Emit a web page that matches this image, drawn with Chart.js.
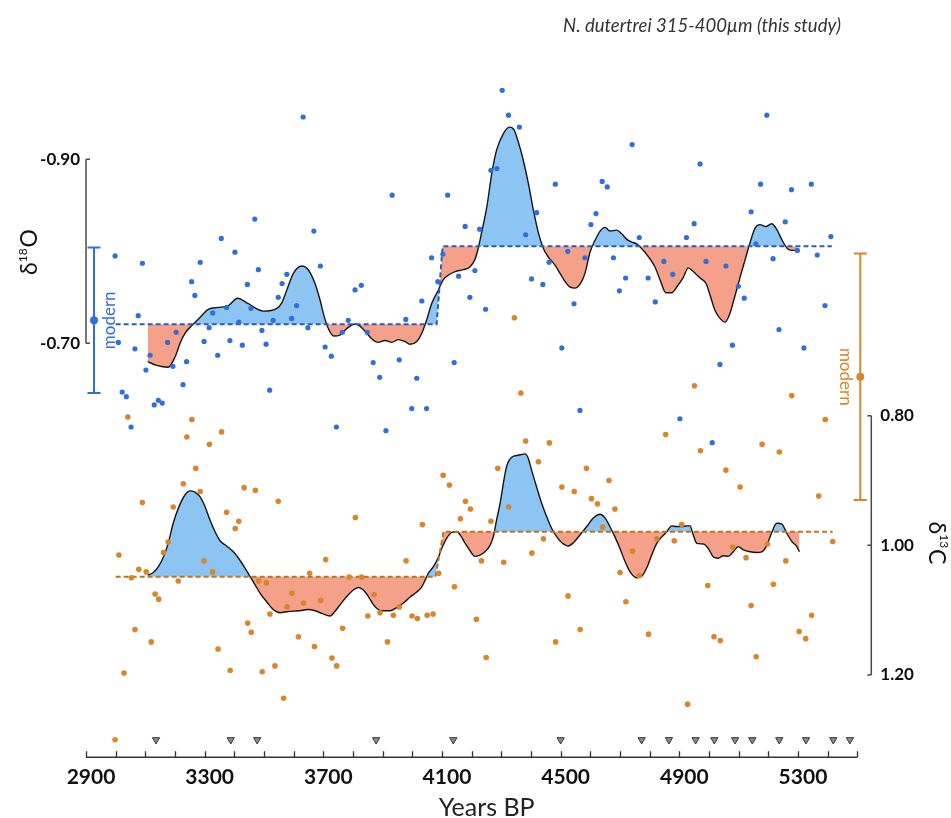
<!DOCTYPE html>
<html><head><meta charset="utf-8">
<script src="https://cdn.jsdelivr.net/npm/chart.js@4.4.1/dist/chart.umd.min.js"></script>
<style>html,body{margin:0;padding:0;background:#fff}#wrap{width:951px;height:818px;position:relative;background:#fff}</style>
</head><body><div id="wrap"><canvas id="c" width="951" height="818"></canvas></div>
<script>
// ---------------- DATA ----------------
// raw δ18O samples (Years BP, ‰)
const d18oYears = [2998,3090,3076,3009,3065,3102,3116,3022,3036,3130,3144,3157,3052,3632,3469,3356,3668,3402,3285,3481,3690,3256,3267,3444,3577,3561,3548,3327,3374,3456,3610,3415,3531,3593,3315,3493,3648,3204,3175,3298,3385,3427,3507,3344,3193,3239,3227,3519,3706,3727,3784,3764,3744,4303,4324,4361,4265,4285,3932,4119,4482,4178,4227,4419,4619,4602,4382,4065,4524,4461,4582,4103,4211,4156,4086,4402,4440,3807,3828,4194,4032,4247,4545,3978,3848,3868,3956,4141,3890,4015,4504,3998,4048,3911,4565,5195,4741,4970,4640,4657,5174,5278,5345,5142,5257,4950,4765,4924,5158,5411,4678,4848,4990,5057,5216,5298,5365,4719,4795,4878,4698,4819,5099,5119,5391,5236,5320,5079,5037,4902,5011];
const d18oValues = [-0.795,-0.787,-0.730,-0.701,-0.694,-0.671,-0.687,-0.647,-0.642,-0.633,-0.638,-0.635,-0.609,-0.946,-0.835,-0.814,-0.822,-0.799,-0.788,-0.780,-0.784,-0.767,-0.752,-0.764,-0.775,-0.765,-0.750,-0.733,-0.739,-0.738,-0.741,-0.723,-0.725,-0.727,-0.717,-0.714,-0.717,-0.712,-0.701,-0.702,-0.703,-0.698,-0.699,-0.687,-0.675,-0.680,-0.655,-0.649,-0.696,-0.686,-0.725,-0.712,-0.609,-0.975,-0.948,-0.935,-0.888,-0.890,-0.861,-0.861,-0.873,-0.827,-0.824,-0.842,-0.841,-0.829,-0.818,-0.793,-0.800,-0.788,-0.793,-0.797,-0.779,-0.773,-0.767,-0.770,-0.764,-0.758,-0.763,-0.750,-0.746,-0.737,-0.743,-0.726,-0.712,-0.679,-0.682,-0.679,-0.663,-0.662,-0.695,-0.629,-0.629,-0.605,-0.627,-0.948,-0.916,-0.895,-0.876,-0.870,-0.873,-0.867,-0.873,-0.843,-0.832,-0.830,-0.815,-0.815,-0.808,-0.816,-0.793,-0.789,-0.789,-0.784,-0.792,-0.801,-0.796,-0.771,-0.771,-0.775,-0.757,-0.745,-0.762,-0.749,-0.741,-0.715,-0.695,-0.698,-0.677,-0.618,-0.592];

// raw δ13C samples (Years BP, ‰)
const d13cYears = [2998,3041,3257,3240,3357,3316,3270,3228,3285,3090,3194,3433,3471,3548,3374,3415,3403,3177,3161,3011,3298,3078,3103,3053,3327,3211,3708,3654,3482,3508,3133,3145,3594,3633,3691,3578,3520,3445,3457,3065,3616,3765,3670,3120,3345,3729,3745,3537,3028,3386,3494,3566,4366,4344,4382,4462,4425,4587,4288,4104,4125,4504,4546,4604,4624,4179,4196,4325,3808,4162,4034,4265,4442,4403,4233,4308,3979,3787,3829,4089,3871,4142,4525,3956,3850,3891,3936,3999,4017,4050,4070,4216,4566,3916,4483,4249,4951,5279,5392,4854,4971,5179,5237,5057,5105,4663,4683,5370,4642,4908,4883,4824,5080,5125,5197,4742,5259,5417,4700,4765,4996,5217,4720,5142,5346,4796,5017,5038,5304,5326,5159,4928];
const d13cValues = [1.300,0.802,0.806,0.833,0.825,0.844,0.881,0.905,0.917,0.934,0.941,0.911,0.915,0.932,0.949,0.963,0.974,0.995,1.011,1.015,1.024,1.037,1.041,1.050,1.041,1.055,1.022,1.043,1.055,1.058,1.075,1.083,1.074,1.089,1.085,1.095,1.106,1.120,1.134,1.130,1.141,1.128,1.156,1.149,1.160,1.174,1.186,1.186,1.197,1.193,1.195,1.236,0.765,0.649,0.839,0.842,0.871,0.881,0.881,0.892,0.907,0.910,0.917,0.928,0.936,0.932,0.944,0.941,0.957,0.959,0.968,0.963,0.990,1.012,1.024,1.026,1.024,1.049,1.049,1.043,1.076,1.064,1.078,1.095,1.109,1.104,1.108,1.109,1.113,1.108,1.106,1.114,1.130,1.149,1.149,1.173,0.754,0.769,0.806,0.829,0.854,0.844,0.856,0.884,0.910,0.900,0.944,0.924,0.972,0.968,0.993,0.990,1.003,1.019,0.998,1.009,1.024,0.994,1.042,1.047,1.062,1.060,1.087,1.093,1.108,1.137,1.141,1.147,1.133,1.144,1.172,1.245];

// smoothed δ18O record
const d18oSmoothYears = [3108,3138,3177,3200,3217,3234,3256,3284,3312,3346,3380,3411,3447,3498,3543,3560,3577,3599,3627,3649,3672,3689,3703,3717,3734,3756,3779,3807,3818,3841,3863,3885,3908,3931,3953,3975,3992,4015,4032,4048,4065,4088,4104,4121,4144,4172,4194,4211,4222,4234,4251,4268,4284,4307,4327,4343,4357,4374,4391,4408,4425,4442,4458,4481,4498,4515,4532,4548,4565,4582,4599,4616,4633,4650,4666,4689,4706,4723,4740,4756,4773,4796,4818,4835,4855,4874,4893,4914,4930,4947,4970,4990,5004,5020,5040,5054,5069,5088,5105,5122,5138,5155,5172,5192,5211,5228,5245,5264,5279,5296];
const d18oSmoothValues = [-0.680,-0.676,-0.674,-0.685,-0.700,-0.711,-0.719,-0.728,-0.737,-0.739,-0.741,-0.749,-0.743,-0.735,-0.738,-0.744,-0.758,-0.776,-0.784,-0.780,-0.765,-0.747,-0.729,-0.716,-0.708,-0.709,-0.716,-0.721,-0.720,-0.713,-0.705,-0.701,-0.703,-0.701,-0.704,-0.702,-0.699,-0.702,-0.711,-0.725,-0.743,-0.758,-0.769,-0.774,-0.778,-0.780,-0.783,-0.791,-0.803,-0.821,-0.848,-0.885,-0.910,-0.928,-0.935,-0.932,-0.919,-0.899,-0.874,-0.845,-0.820,-0.803,-0.794,-0.785,-0.776,-0.767,-0.761,-0.760,-0.764,-0.776,-0.799,-0.812,-0.822,-0.826,-0.822,-0.823,-0.819,-0.813,-0.810,-0.808,-0.803,-0.794,-0.783,-0.769,-0.755,-0.755,-0.762,-0.772,-0.782,-0.778,-0.771,-0.765,-0.752,-0.736,-0.726,-0.723,-0.731,-0.752,-0.772,-0.791,-0.809,-0.825,-0.829,-0.827,-0.830,-0.824,-0.813,-0.803,-0.801,-0.801];

// smoothed δ13C record
const d13cSmoothYears = [3108,3127,3144,3161,3177,3194,3211,3234,3251,3267,3284,3301,3318,3335,3352,3374,3397,3419,3436,3453,3470,3487,3509,3531,3554,3582,3616,3649,3672,3695,3723,3739,3756,3779,3801,3818,3835,3852,3868,3885,3902,3925,3947,3970,3992,4015,4032,4043,4054,4071,4088,4099,4116,4133,4150,4161,4178,4194,4211,4228,4245,4262,4273,4284,4296,4307,4318,4335,4357,4380,4391,4402,4419,4436,4453,4470,4487,4504,4526,4543,4565,4588,4610,4633,4650,4666,4683,4700,4717,4734,4756,4773,4790,4807,4824,4841,4858,4874,4891,4908,4925,4936,4947,4959,4981,4998,5015,5031,5048,5065,5082,5099,5116,5138,5161,5178,5195,5211,5228,5245,5262,5279,5296,5305];
const d13cSmoothValues = [1.046,1.042,1.033,1.018,0.997,0.966,0.943,0.922,0.916,0.918,0.925,0.940,0.961,0.979,0.993,1.001,1.010,1.023,1.035,1.048,1.061,1.074,1.087,1.099,1.104,1.102,1.101,1.099,1.101,1.105,1.109,1.102,1.092,1.079,1.069,1.065,1.069,1.079,1.091,1.099,1.101,1.101,1.096,1.089,1.080,1.072,1.064,1.054,1.043,1.033,1.018,1.005,0.989,0.980,0.979,0.984,0.997,1.008,1.017,1.015,1.010,1.000,0.987,0.961,0.935,0.904,0.878,0.864,0.861,0.859,0.866,0.884,0.910,0.935,0.956,0.974,0.987,0.996,1.001,0.996,0.984,0.971,0.958,0.952,0.958,0.971,0.987,1.005,1.025,1.041,1.050,1.048,1.035,1.015,0.997,0.987,0.979,0.970,0.971,0.971,0.970,0.970,0.984,0.997,0.998,1.005,1.018,1.020,1.016,1.017,1.010,1.002,1.007,1.010,1.011,1.010,1.000,0.981,0.966,0.967,0.981,0.994,1.002,1.010];

// mean levels (dashed)
const d18oMeanYears = [3000,4082,4102,5414];
const d18oMeanValues = [-0.7207,-0.7207,-0.8054,-0.8054];
const d13cMeanYears = [3000,4078,4105,5417];
const d13cMeanValues = [1.0485,1.0485,0.979,0.979];

// age-model tie points (triangles), drawn on the δ13C scale row
const tiePointYears = [3136,3388,3477,3878,4138,4500,4773,4865,4955,5018,5088,5146,5237,5327,5419,5475];
const tiePointRow = 1.30;

// modern values (mean ± sd)
const modernD18O = [-0.725, 0.079];
const modernD13C = [0.740, 0.190];

// ticks
const xTickLabels = [2900,3300,3700,4100,4500,4900,5300];
const xMinorStep = 100;
const d18oTickLabels = [-0.90,-0.70];
const d13cTickLabels = [0.80,1.00,1.20];

// ---------------- STYLE ----------------
const C = {
  bluePt:'#2f6fdc', orangePt:'#d9862b', fillAbove:'#8cc4f4', fillBelow:'#f5a088',
  blueDash:'#2a5bc6', orangeDash:'#b9751f', curve:'#151515', axis:'#4a4a4a', text:'#111'
};
const FONT = 'Lato, "Open Sans", sans-serif';

const pts = (xs, ys) => xs.map((x,i)=>({x, y: ys[i]}));

const decor = {
  id:'decor',
  afterDraw(chart){
    const {ctx, chartArea:a, scales:{x, y18, y13}} = chart;
    ctx.save();
    // ---- x axis ----
    ctx.strokeStyle = '#333'; ctx.lineWidth = 1.5;
    ctx.beginPath(); ctx.moveTo(a.left, a.bottom); ctx.lineTo(a.right, a.bottom); ctx.stroke();
    ctx.lineWidth = 1.3;
    ctx.beginPath();
    for (let v = x.min; v <= x.max + 1e-6; v += xMinorStep) {
      const px = Math.round(x.getPixelForValue(v)) + 0.5;
      ctx.moveTo(px, a.bottom); ctx.lineTo(px, a.bottom - 6);
    }
    ctx.stroke();
    ctx.fillStyle = C.text; ctx.font = 'bold 21px ' + FONT;
    ctx.textAlign = 'center'; ctx.textBaseline = 'alphabetic';
    xTickLabels.forEach(v => ctx.fillText(String(v), x.getPixelForValue(v) + 5, a.bottom + 27));
    ctx.fillStyle = '#222'; ctx.font = '25px ' + FONT;
    ctx.fillText('Years BP', (a.left + a.right)/2 + 15, a.bottom + 59);

    // ---- left δ18O axis ----
    const ly0 = y18.getPixelForValue(d18oTickLabels[0]);
    const ly1 = y18.getPixelForValue(d18oTickLabels[d18oTickLabels.length-1]);
    ctx.strokeStyle = C.axis; ctx.lineWidth = 1.5;
    ctx.beginPath(); ctx.moveTo(a.left, ly0); ctx.lineTo(a.left, ly1); ctx.stroke();
    ctx.beginPath();
    d18oTickLabels.forEach(v => { const py = y18.getPixelForValue(v); ctx.moveTo(a.left, py); ctx.lineTo(a.left + 4, py); });
    ctx.stroke();
    ctx.fillStyle = C.text; ctx.font = 'bold 17px ' + FONT; ctx.textAlign = 'right'; ctx.textBaseline = 'middle';
    d18oTickLabels.forEach(v => ctx.fillText(v.toFixed(2), a.left - 6, y18.getPixelForValue(v)));

    // ---- right δ13C axis ----
    const rx = a.right + 14;
    const ry0 = y13.getPixelForValue(d13cTickLabels[0]);
    const ry1 = y13.getPixelForValue(d13cTickLabels[d13cTickLabels.length-1]);
    ctx.beginPath(); ctx.moveTo(rx, ry0); ctx.lineTo(rx, ry1); ctx.stroke();
    ctx.beginPath();
    d13cTickLabels.forEach(v => { const py = y13.getPixelForValue(v); ctx.moveTo(rx, py); ctx.lineTo(rx - 4, py); });
    ctx.stroke();
    ctx.textAlign = 'left';
    d13cTickLabels.forEach(v => ctx.fillText(v.toFixed(2), rx + 9, y13.getPixelForValue(v)));

    // ---- axis titles ----
    function isoTitle(cx, cy, angle, sup, base){
      ctx.save(); ctx.translate(cx, cy); ctx.rotate(angle);
      const big = '23px ' + FONT, small = '12px ' + FONT;
      ctx.font = big; const w1 = ctx.measureText('δ').width, w3 = ctx.measureText(base).width;
      ctx.font = small; const w2 = ctx.measureText(sup).width;
      let sx = -(w1 + w2 + w3 + 1)/2;
      ctx.fillStyle = C.text; ctx.textAlign = 'left'; ctx.textBaseline = 'alphabetic';
      ctx.font = big; ctx.fillText('δ', sx, 8.3); sx += w1;
      ctx.font = small; ctx.fillText(sup, sx, -2.5); sx += w2 + 1;
      ctx.font = big; ctx.fillText(base, sx, 8.3);
      ctx.restore();
    }
    isoTitle(29, 252, -Math.PI/2, '18', 'O');
    isoTitle(937, 543, Math.PI/2, '13', 'C');

    // ---- modern error bars ----
    function errBar(px, scale, m, color){
      const yt = scale.getPixelForValue(m[0] - m[1]);
      const yb = scale.getPixelForValue(m[0] + m[1]);
      const yc = scale.getPixelForValue(m[0]);
      ctx.strokeStyle = color; ctx.lineWidth = 2;
      ctx.beginPath();
      ctx.moveTo(px, yt); ctx.lineTo(px, yb);
      ctx.moveTo(px - 6.5, yt); ctx.lineTo(px + 6.5, yt);
      ctx.moveTo(px - 6.5, yb); ctx.lineTo(px + 6.5, yb);
      ctx.stroke();
      ctx.fillStyle = color; ctx.beginPath(); ctx.arc(px, yc, 4, 0, Math.PI*2); ctx.fill();
    }
    errBar(a.left + 8, y18, modernD18O, C.bluePt);
    errBar(a.right + 3, y13, modernD13C, C.orangePt);
    function rotText(txt, cx, cy, ang, font, color){
      ctx.save(); ctx.translate(cx, cy); ctx.rotate(ang);
      ctx.font = font; ctx.fillStyle = color; ctx.textAlign = 'center'; ctx.textBaseline = 'middle';
      ctx.fillText(txt, 0, 0); ctx.restore();
    }
    rotText('modern', a.left + 24, y18.getPixelForValue(modernD18O[0]), -Math.PI/2, '17px ' + FONT, C.bluePt);
    rotText('modern', a.right - 11.5, y13.getPixelForValue(modernD13C[0]), Math.PI/2, '17px ' + FONT, C.orangePt);

    // ---- header ----
    ctx.fillStyle = '#333'; ctx.font = 'italic 18.5px ' + FONT; ctx.textAlign = 'center'; ctx.textBaseline = 'middle';
    ctx.fillText('N. dutertrei 315-400\u00b5m (this study)', 702, 26);
    ctx.restore();
  }
};

function build(){
  new Chart(document.getElementById('c'), {
    type: 'line',
    data: {
      datasets: [
        { label:'δ18O', data: pts(d18oYears, d18oValues), yAxisID:'y18', showLine:false,
          pointRadius:2.6, pointBorderWidth:0, backgroundColor:C.bluePt, borderColor:C.bluePt, order:0 },
        { label:'δ13C', data: pts(d13cYears, d13cValues), yAxisID:'y13', showLine:false,
          pointRadius:2.8, pointBorderWidth:0, backgroundColor:C.orangePt, borderColor:C.orangePt, order:0 },
        { label:'tie points', data: tiePointYears.map(t=>({x:t, y:tiePointRow})), yAxisID:'y13', showLine:false,
          pointStyle:'triangle', rotation:180, pointRadius:4.2, pointBorderWidth:1,
          backgroundColor:'#8d8d8d', borderColor:'#333', order:0 },
        { label:'δ18O mean', data: pts(d18oMeanYears, d18oMeanValues), yAxisID:'y18',
          borderColor:C.blueDash, borderWidth:2, borderDash:[5,3], pointRadius:0, fill:false, tension:0, order:1 },
        { label:'δ13C mean', data: pts(d13cMeanYears, d13cMeanValues), yAxisID:'y13',
          borderColor:C.orangeDash, borderWidth:2, borderDash:[5,3], pointRadius:0, fill:false, tension:0, order:1 },
        { label:'δ18O smooth', data: pts(d18oSmoothYears, d18oSmoothValues), yAxisID:'y18',
          borderColor:C.curve, borderWidth:1.4, pointRadius:0, cubicInterpolationMode:'monotone',
          fill:{target:3, above:C.fillAbove, below:C.fillBelow}, order:2 },
        { label:'δ13C smooth', data: pts(d13cSmoothYears, d13cSmoothValues), yAxisID:'y13',
          borderColor:C.curve, borderWidth:1.4, pointRadius:0, cubicInterpolationMode:'monotone',
          fill:{target:4, above:C.fillAbove, below:C.fillBelow}, order:2 }
      ]
    },
    options: {
      responsive:false, animation:false, events:[],
      layout:{ padding:{ left:86, right:93.7, top:67.3, bottom:60.7 } },
      plugins:{ legend:{display:false}, tooltip:{enabled:false}, title:{display:false} },
      scales:{
        x:{ type:'linear', min:2900, max:5500, display:false },
        y18:{ type:'linear', min:-1.00, max:-0.25, reverse:true, display:false },
        y13:{ type:'linear', min:0.2626, max:1.3270, reverse:true, display:false }
      }
    },
    plugins:[decor]
  });
}
Promise.all([
  document.fonts.load('bold 21px Lato'), document.fonts.load('21px Lato'), document.fonts.load('italic 18px Lato')
]).then(build, build);
</script></body></html>
